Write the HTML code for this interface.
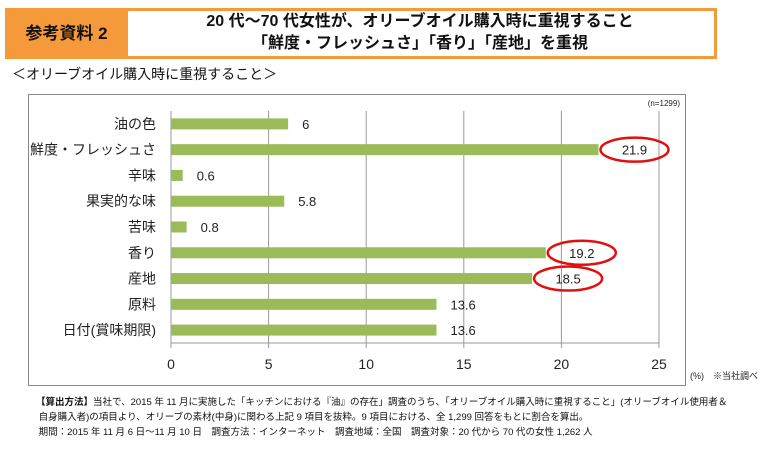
<!DOCTYPE html>
<html><head><meta charset="utf-8"><style>
body{margin:0;width:762px;height:451px;background:#fff;font-family:"Liberation Sans","Noto Sans CJK JP",sans-serif;position:relative;overflow:hidden}
.abs{position:absolute}
</style></head><body>
<div class="abs" style="left:5px;top:8px;width:706px;height:45px;border:3px solid #f59a3a;background:#fff"></div>
<div class="abs" style="left:5px;top:8px;width:123px;height:51px;background:#f59a3a;font-weight:bold;font-size:17px;line-height:51px;text-align:center;color:#111">参考資料 2</div>
<div class="abs" style="left:130px;top:11px;width:580px;text-align:center;font-weight:bold;font-size:16px;line-height:22px;color:#111">20 代～70 代女性が、オリーブオイル購入時に重視すること<br>「鮮度・フレッシュさ」「香り」「産地」を重視</div>
<div class="abs" style="left:12px;top:64px;font-size:14px;color:#111">＜オリーブオイル購入時に重視すること＞</div>
<div class="abs" style="left:28px;top:94px;width:656px;height:290px;border:1px solid #888"></div>
<svg id="chart" class="abs" style="left:0;top:0" width="762" height="451"></svg>
<div class="abs" style="left:36px;top:395px;font-size:9.5px;line-height:15px;color:#111;white-space:nowrap"><b>【算出方法】</b>当社で、2015 年 11 月に実施した「キッチンにおける『油』の存在」調査のうち、「オリーブオイル購入時に重視すること」(オリーブオイル使用者＆<br>&nbsp;自身購入者)の項目より、オリーブの素材(中身)に関わる上記 9 項目を抜粋。9 項目における、全 1,299 回答をもとに割合を算出。<br>&nbsp;期間：2015 年 11 月 6 日～11 月 10 日　調査方法：インターネット　調査地域：全国　調査対象：20 代から 70 代の女性 1,262 人</div>
<script>
const categories=["油の色","鮮度・フレッシュさ","辛味","果実的な味","苦味","香り","産地","原料","日付(賞味期限)"];
const values=[6,21.9,0.6,5.8,0.8,19.2,18.5,13.6,13.6];
const labels=["6","21.9","0.6","5.8","0.8","19.2","18.5","13.6","13.6"];
const ticks=[0,5,10,15,20,25];
const highlighted=[1,5,6];
const ns="http://www.w3.org/2000/svg";
const svg=document.getElementById('chart');
const X0=171,X1=659,Y0=111,Y1=343;
const x=v=>X0+v/25*(X1-X0);
const rowH=(Y1-Y0)/categories.length;
const y=i=>Y0+rowH*(i+0.5);
function mk(t,a){const e=document.createElementNS(ns,t);for(const k in a)e.setAttribute(k,a[k]);svg.appendChild(e);return e;}
ticks.forEach(t=>{
 const l=mk('line',{x1:x(t),x2:x(t),y1:Y0,y2:Y1+5,stroke:'#999','stroke-width':1});
 
 
 const tx=mk('text',{x:x(t),y:Y1+26,'text-anchor':'middle','font-size':14,fill:'#222'});
 tx.textContent=t;
 
 
});
const ax=mk('line',{x1:X0,x2:X1,y1:Y1,y2:Y1,stroke:'#999'});


categories.forEach((c,i)=>{
 const cy=y(i);
 const r=mk('rect',{x:X0,y:cy-5.5,width:x(values[i])-X0,height:11,fill:'#9bbb59'});
 
 
 const cl=mk('text',{x:156,y:cy+5,'text-anchor':'end','font-size':14,fill:'#222'});
 cl.textContent=c;
 
 
 const hl=highlighted.includes(i);
 const vl=mk('text',{x:x(values[i])+(hl?36:14),y:cy+5,'text-anchor':hl?'middle':'start','font-size':13,fill:'#222'});
 vl.textContent=labels[i];
 
 
 if(hl){
  const e=mk('ellipse',{cx:x(values[i])+36,cy:cy,rx:34,ry:12,fill:'none',stroke:'#e01010','stroke-width':2.5});
  
  
 }
});
const n=mk('text',{x:680,y:106,'text-anchor':'end','font-size':8,fill:'#222'});
n.textContent='(n=1299)';


const p=mk('text',{x:758,y:379,'text-anchor':'end','font-size':9,fill:'#222'});
p.textContent='(%)　※当社調べ';


</script>
</body></html>
